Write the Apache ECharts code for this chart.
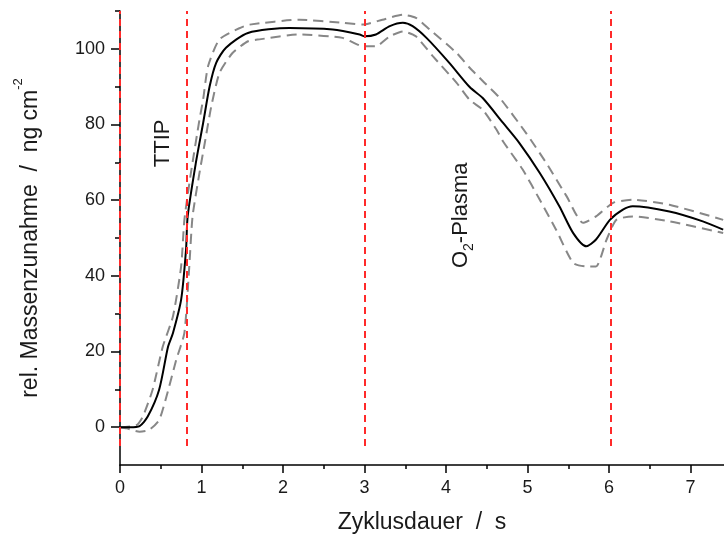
<!DOCTYPE html>
<html>
<head>
<meta charset="utf-8">
<script src="https://cdn.jsdelivr.net/npm/echarts@6/dist/echarts.min.js"></script>
<style>html,body{margin:0;padding:0;background:#fff;}#c{width:724px;height:539px;}</style>
</head>
<body>
<div id="c"></div>
<script>
// Mean curve: [Zyklusdauer s, rel. Massenzunahme ng cm^-2]
var meanCurve = [[0,0],[0.12,0],[0.24,0.3],[0.34,2.8],[0.48,9.9],[0.59,21.3],[0.65,24.9],[0.75,33.7],[0.81,46.9],[0.83,55.7],[0.93,69.8],[1.02,80.4],[1.10,90.1],[1.18,96.3],[1.30,100.3],[1.57,104.2],[2.08,105.5],[2.61,105.1],[2.94,103.8],[3.0,103.3],[3.14,103.8],[3.31,106],[3.47,106.9],[3.59,106],[3.76,102.9],[4.04,96.3],[4.29,89.9],[4.45,87],[4.70,80.4],[4.90,75.1],[5.15,67.2],[5.39,58.4],[5.56,51.3],[5.72,47.8],[5.84,49.6],[6.01,54.8],[6.17,57.5],[6.29,58.4],[6.74,57.0],[7.15,54.4],[7.40,52.2]];
var upperCurve = [[0,0],[0.2,0.5],[0.28,2.8],[0.40,9.9],[0.525,21.3],[0.65,29.3],[0.75,42.5],[0.79,54.8],[0.87,67.2],[0.975,81.3],[1.02,86.6],[1.08,95.4],[1.22,102.5],[1.47,105.5],[1.59,106.4],[2.2,107.7],[2.73,106.9],[2.98,106.4],[3.22,107.7],[3.47,109],[3.63,108.2],[3.80,105.1],[4.13,98.9],[4.29,95],[4.45,91.5],[4.66,87],[4.98,77.8],[5.23,69.8],[5.48,61],[5.68,54],[5.84,55.7],[6.05,59.3],[6.29,60.1],[6.74,58.8],[7.40,54.8]];
var lowerCurve = [[0,0],[0.08,-0.3],[0.24,-1.2],[0.36,-0.7],[0.48,1.9],[0.57,8.1],[0.69,17.8],[0.79,24.9],[0.85,42.5],[0.89,55.7],[0.975,67.2],[1.04,75.1],[1.12,84.8],[1.22,93.6],[1.38,98.9],[1.57,102],[1.71,102.5],[2.2,103.8],[2.73,102.9],[2.98,100.7],[3.14,100.7],[3.31,103.3],[3.47,104.6],[3.63,103.3],[3.84,98],[4.13,91],[4.29,86.5],[4.45,83.9],[4.62,78.6],[4.70,75.5],[4.94,68.1],[5.15,60.1],[5.35,52.2],[5.56,43.4],[5.72,42.5],[5.84,42.5],[5.97,49.6],[6.09,54.8],[6.29,55.7],[6.74,54.4],[7.40,51.3]];
var phaseLines = [0, 0.82, 3, 6.02];
var xMajorTicks = [0,1,2,3,4,5,6,7];
var xMinorTicks = [0.5,1.5,2.5,3.5,4.5,5.5,6.5];
var yMajorTicks = [0,20,40,60,80,100];
var yMinorTicks = [10,30,50,70,90,110];
var annotations = [{x:0.53, y:75, text:'{a|TTIP}'}, {x:4.18, y:56, text:'{a|O}{b|2}{a|-Plasma}'}];

var FONT = '"Liberation Sans", Arial, sans-serif';
var TXT = '#1a1a1a';
var chart = echarts.init(document.getElementById('c'));
var xr = {min:0, max:7.41}, yr = {min:-10, max:110};
var markData = phaseLines.map(function(v){ return [{coord:[v,-5]},{coord:[v,110]}]; });

chart.setOption({
  animation:false,
  backgroundColor:'#fff',
  grid:{left:120, right:0, top:11, bottom:73},
  xAxis:[{
    type:'value', min:xr.min, max:xr.max, position:'bottom',
    axisLine:{onZero:false, lineStyle:{color:'#000', width:1.5}},
    axisTick:{show:true, customValues:xMajorTicks, length:8, lineStyle:{color:'#000', width:1.5}},
    axisLabel:{customValues:xMajorTicks, margin:14, fontSize:18, color:TXT, fontFamily:FONT},
    splitLine:{show:false},
    name:'Zyklusdauer  /  s', nameLocation:'middle', nameGap:46,
    nameTextStyle:{fontSize:23, color:TXT, fontFamily:FONT}
  },{
    type:'value', min:xr.min, max:xr.max, position:'bottom',
    axisLine:{show:false, onZero:false},
    axisTick:{show:true, customValues:xMinorTicks, length:4, lineStyle:{color:'#000', width:1.5}},
    axisLabel:{show:false}, splitLine:{show:false}
  }],
  yAxis:[{
    type:'value', min:yr.min, max:yr.max,
    axisLine:{show:true, lineStyle:{color:'#000', width:1.5}},
    axisTick:{show:true, customValues:yMajorTicks, length:9, lineStyle:{color:'#000', width:1.5}},
    axisLabel:{customValues:yMajorTicks, margin:15, fontSize:18, color:TXT, fontFamily:FONT},
    splitLine:{show:false},
    name:'{a|rel. Massenzunahme  /  ng cm}{s|-2}', nameLocation:'middle', nameGap:78,
    nameTextStyle:{fontFamily:FONT, color:TXT, rich:{
      a:{fontSize:23, color:TXT, fontFamily:FONT, lineHeight:30, verticalAlign:'bottom'},
      s:{fontSize:13, color:TXT, fontFamily:FONT, lineHeight:30, verticalAlign:'top'}
    }}
  },{
    type:'value', min:yr.min, max:yr.max, position:'left',
    axisLine:{show:false},
    axisTick:{show:true, customValues:yMinorTicks, length:5, lineStyle:{color:'#000', width:1.5}},
    axisLabel:{show:false}, splitLine:{show:false}
  }],
  series:[
    {type:'line', name:'upper', data:upperCurve, symbol:'none', smooth:0.2,
     lineStyle:{color:'#878787', width:2, type:[10,6]}, z:3},
    {type:'line', name:'lower', data:lowerCurve, symbol:'none', smooth:0.2,
     lineStyle:{color:'#878787', width:2, type:[10,6]}, z:3},
    {type:'line', name:'mean', data:meanCurve, symbol:'none', smooth:0.25,
     lineStyle:{color:'#000', width:2}, z:4,
     markLine:{silent:true, symbol:'none', label:{show:false},
       lineStyle:{color:'#ff2a2a', width:2, type:[7,5]}, data:markData}}
  ]
});

var g = annotations.map(function(a){
  var p = chart.convertToPixel({gridIndex:0}, [a.x, a.y]);
  return {type:'text', x:p[0], y:p[1], rotation:Math.PI/2, z:10,
    style:{text:a.text, align:'center', verticalAlign:'middle', fill:TXT,
      rich:{a:{fontSize:22, fontFamily:FONT, fill:TXT, lineHeight:30, verticalAlign:'middle'},
            b:{fontSize:14, fontFamily:FONT, fill:TXT, lineHeight:30, verticalAlign:'bottom'}}}};
});
chart.setOption({graphic:g});
</script>
</body>
</html>
